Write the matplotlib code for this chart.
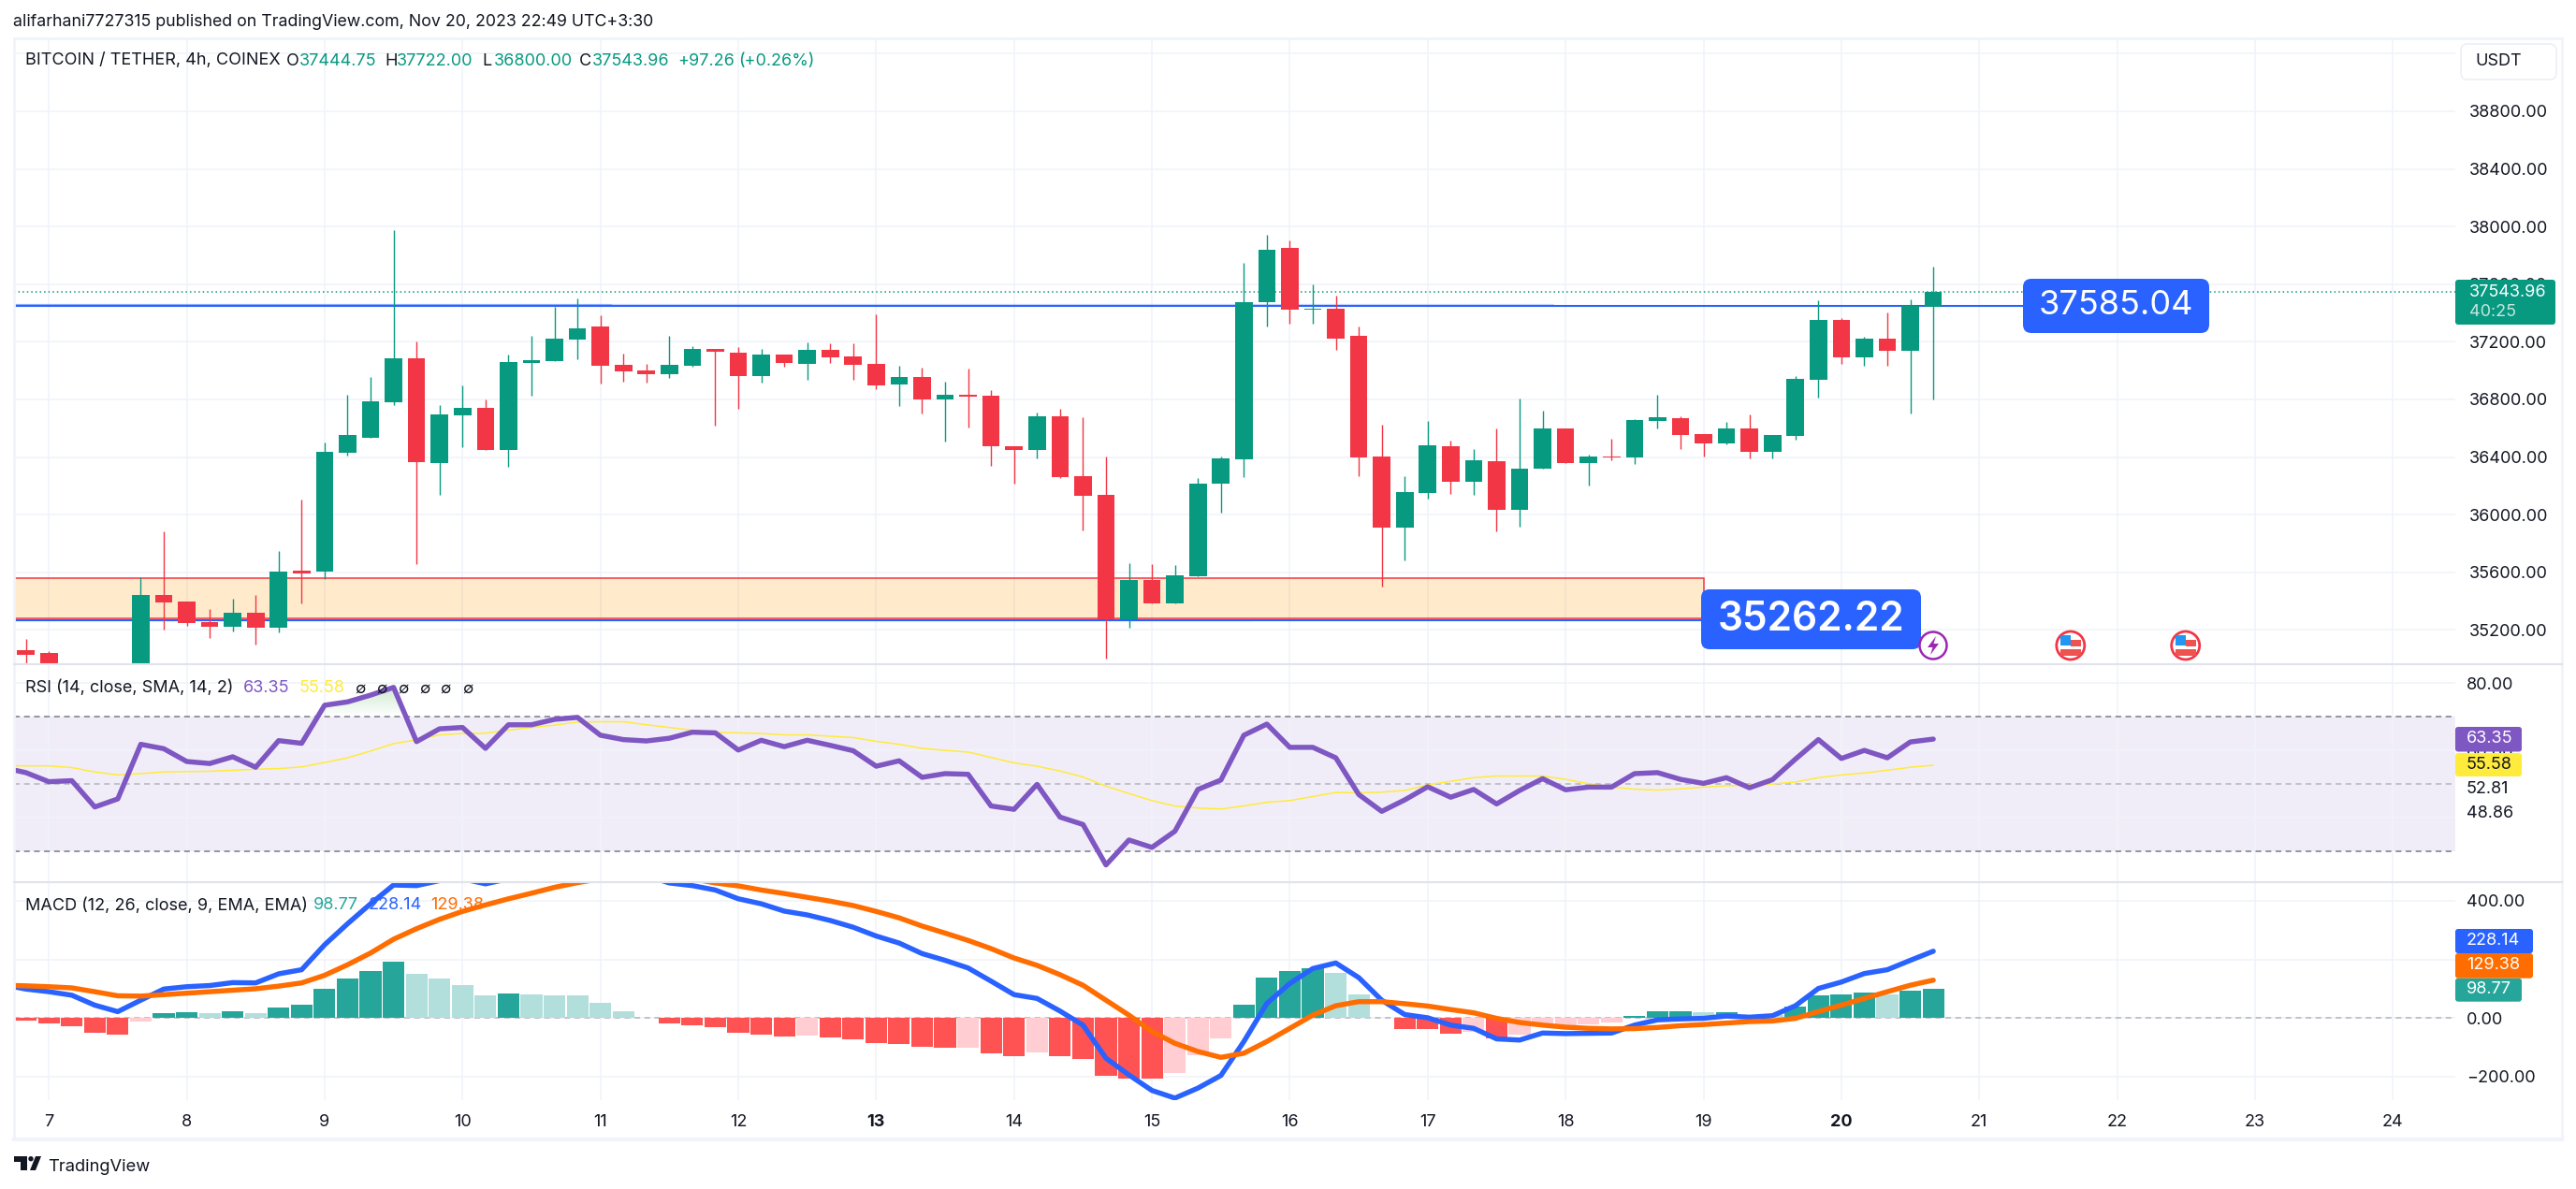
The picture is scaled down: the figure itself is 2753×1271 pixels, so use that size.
import matplotlib
matplotlib.use('Agg')
import matplotlib.pyplot as plt
import numpy as np
from matplotlib.patches import Rectangle, FancyBboxPatch, Circle, Polygon

plt.rcParams['font.family'] = ['Inter', 'DejaVu Sans']
plt.rcParams['axes.unicode_minus'] = False

# 4h candles, first entry is 2 bars before Nov 7 00:00
opens = [35160, 35061, 35042, 34880, 34800, 34780, 34800, 35444, 35399, 35256, 35224, 35321, 35217, 35613, 35606,
         36430, 36534, 36780, 37085, 36359, 36689, 36741, 36449, 37053, 37066, 37215, 37306, 37040, 37001, 36975,
         37033, 37150, 37124, 36962, 37111, 37046, 37143, 37098, 37046, 36903, 36955, 36800, 36832, 36826, 36475,
         36449, 36683, 36268, 36138, 35276, 35548, 35386, 35574, 36216, 36385, 37474, 37850, 37424, 37429, 37241,
         36404, 35911, 36151, 36475, 36229, 36372, 36034, 36320, 36599, 36359, 36404, 36398, 36650, 36670, 36560,
         36495, 36599, 36436, 36547, 36936, 37351, 37092, 37221, 37137, 37444.75]
highs = [35200, 35139, 35051, 34920, 34850, 34900, 35567, 35885, 35399, 35347, 35418, 35444, 35749, 36106, 36501,
         36832, 36955, 37974, 37202, 36761, 36897, 36800, 37111, 37241, 37442, 37500, 37383, 37117, 37046, 37241,
         37169, 37150, 37163, 37150, 37111, 37195, 37189, 37189, 37390, 37033, 37020, 36923, 37014, 36865, 36475,
         36709, 36735, 36676, 36404, 35665, 35658, 35652, 36255, 36404, 37747, 37941, 37902, 37597, 37520, 37306,
         36624, 36268, 36650, 36514, 36456, 36599, 36806, 36722, 36599, 36417, 36527, 36663, 36832, 36683, 36560,
         36644, 36696, 36553, 36962, 37487, 37364, 37234, 37403, 37494, 37722]
lows = [35050, 34900, 34800, 34760, 34700, 34720, 34700, 35204, 35230, 35146, 35191, 35100, 35185, 35386, 35554,
        36410, 36534, 36761, 35658, 36138, 36469, 36449, 36333, 36826, 37066, 37079, 36910, 36923, 36916, 36949,
        37027, 36618, 36735, 36916, 37027, 36936, 37053, 36936, 36871, 36754, 36702, 36508, 36605, 36339, 36216,
        36391, 36255, 35892, 35003, 35217, 35386, 35386, 35574, 36015, 36261, 37306, 37325, 37325, 37143, 36268,
        35502, 35684, 36112, 36145, 36138, 35885, 35918, 36320, 36359, 36203, 36378, 36352, 36599, 36456, 36404,
        36488, 36391, 36391, 36521, 36813, 37046, 37033, 37033, 36702, 36800]
closes = [35100, 35029, 34880, 34800, 34780, 34800, 35444, 35392, 35250, 35224, 35321, 35217, 35606, 35593, 36436,
          36553, 36787, 37085, 36365, 36696, 36741, 36449, 37059, 37072, 37221, 37293, 37033, 36994, 36975, 37040,
          37150, 37130, 36962, 37111, 37053, 37143, 37092, 37040, 36897, 36955, 36800, 36832, 36819, 36475, 36449,
          36683, 36261, 36132, 35276, 35548, 35386, 35580, 36216, 36391, 37474, 37837, 37422, 37429, 37221, 36398,
          35911, 36158, 36482, 36229, 36378, 36034, 36320, 36599, 36359, 36404, 36398, 36657, 36676, 36553, 36495,
          36599, 36436, 36553, 36942, 37351, 37092, 37221, 37137, 37448, 37543.96]

rsi = [54.9, 53.4, 50.7, 51.0, 43.2, 45.6, 61.8, 60.5, 56.7, 56.1, 58.1, 55.0, 62.9, 62.1, 73.4, 74.4, 76.4, 78.7,
       62.6, 66.4, 66.8, 60.6, 67.6, 67.6, 69.2, 69.8, 64.5, 63.2, 62.8, 63.6, 65.4, 65.2, 60.1, 63.0, 61.1, 63.0,
       61.5, 59.9, 55.3, 56.9, 52.0, 53.1, 52.9, 43.5, 42.5, 49.9, 40.2, 38.0, 26.0, 33.4, 31.2, 36.0, 48.4, 51.2,
       64.5, 67.8, 60.9, 60.9, 57.8, 46.9, 41.9, 45.3, 49.2, 46.1, 48.4, 44.1, 48.1, 51.6, 48.3, 49.1, 49.1, 53.1,
       53.4, 51.4, 50.2, 51.9, 48.9, 51.3, 57.4, 63.2, 57.6, 60.0, 57.8, 62.5, 63.35]
rsi_sma = [55.5, 55.4, 55.4, 54.9, 53.6, 52.7, 53.1, 53.6, 53.7, 53.8, 54.1, 54.4, 54.6, 55.1, 56.4, 57.8, 59.8, 62.0,
           63.1, 64.6, 65.0, 65.1, 66.0, 66.8, 67.5, 68.4, 68.5, 68.5, 67.6, 66.8, 66.0, 65.3, 65.2, 65.0, 64.6, 64.6,
           64.2, 63.8, 62.7, 61.8, 60.6, 60.0, 59.5, 57.9, 56.3, 55.3, 53.9, 52.1, 49.4, 47.2, 45.1, 43.5, 42.9, 42.6,
           43.5, 44.6, 45.1, 46.3, 47.5, 47.4, 47.6, 48.1, 49.8, 50.8, 51.9, 52.4, 52.4, 52.4, 51.4, 50.1, 49.1, 48.5,
           48.2, 48.6, 49.1, 49.5, 49.7, 50.0, 50.6, 51.9, 52.7, 53.3, 54.1, 55.0, 55.58]

macd_line = [114, 99, 90, 78, 44, 22, 61, 99, 107, 111, 121, 120, 151, 165, 250, 322, 390, 454, 452, 469, 475, 458,
             475, 486, 497, 503, 503, 497, 486, 461, 452, 437, 407, 390, 365, 352, 333, 310, 280, 256, 220, 197, 171,
             126, 80, 67, 24, -24, -137, -194, -247, -273, -239, -196, -80, 50, 118, 169, 188, 138, 61, 12, 1, -24,
             -35, -71, -75, -51, -53, -52, -51, -24, -6, -3, -1, 7, 3, 8, 42, 101, 123, 152, 165, 197, 228.14]
signal_line = [112, 110, 107, 103, 90, 76, 75, 80, 85, 90, 95, 100, 109, 120, 146, 182, 222, 269, 305, 337, 364, 386,
               407, 426, 446, 462, 475, 484, 486, 484, 475, 461, 451, 437, 425, 412, 399, 384, 364, 342, 314, 290,
               265, 237, 205, 180, 148, 112, 61, 10, -46, -86, -114, -134, -120, -80, -35, 10, 42, 56, 56, 49, 41, 29,
               18, -1, -15, -24, -31, -35, -37, -36, -32, -26, -22, -17, -12, -10, -1, 22, 44, 67, 90, 112, 129.38]
macd_hist = [-5, -9, -18, -27, -50, -57, -12, 17, 19, 18, 22, 17, 35, 45, 99, 134, 162, 191, 150, 134, 114, 77, 83, 80,
             79, 77, 51, 23, 2, -18, -25, -31, -50, -57, -62, -61, -66, -73, -85, -88, -97, -101, -100, -120, -129,
             -117, -129, -140, -196, -205, -208, -189, -126, -69, 45, 137, 162, 169, 154, 80, 2, -37, -38, -52, -46,
             -69, -58, -26, -24, -22, -14, 7, 22, 23, 19, 20, 12, 10, 39, 77, 80, 86, 82, 93, 98.77]

days = list(range(7, 25))
bold_days = [13, 20]
price_ticks = [35200, 35600, 36000, 36400, 36800, 37200, 37600, 38000, 38400, 38800, 39200]
price_tick_labels = ['35200.00', '35600.00', '36000.00', '36400.00', '36800.00', '37200.00', '37600.00',
                     '38000.00', '38400.00', '38800.00', '']
rsi_ticks = [80, 60, 40]
rsi_tick_labels = ['80.00', '60.00', '']
macd_ticks = [400, 200, 0, -200]
macd_tick_labels = ['400.00', '200.00', '0.00', '\u2212200.00']

resistance = 37448
support = 35270
zone_top, zone_bottom = 35559, 35280
zone_end = 72
last_close = closes[-1]

GREEN = '#089981'
RED = '#f23645'
BLUE = '#2962ff'
ORANGE = '#ff6d00'
PURPLE = '#7e57c2'
YELLOW = '#ffeb3b'
TEAL = '#26a69a'
INK = '#131722'
GRID = '#f0f3fa'
BORDER = '#e0e3eb'

W, H = 2753, 1271
fig = plt.figure(figsize=(W / 100, H / 100), dpi=100, facecolor='white')


def pane(x0, y0, x1, y1):
    # pixel box (top-left origin) to axes
    return fig.add_axes([x0 / W, 1 - y1 / H, (x1 - x0) / W, (y1 - y0) / H])


left, right = 14.7, 2624
x_per_bar = 24.56
x_zero = 52.2
xlim = ((left - x_zero) / x_per_bar, (right - x_zero) / x_per_bar)

ax_price = pane(left, 41, right, 710.3)
ax_rsi = pane(left, 710.3, right, 943.3)
ax_macd = pane(left, 943.3, right, 1176)

bars = np.arange(-2, len(closes) - 2)
day_pos = [(d - 7) * 6 for d in days]

for ax in (ax_price, ax_rsi, ax_macd):
    ax.set_xlim(xlim)
    ax.set_xticks(day_pos)
    ax.grid(True, color=GRID, linewidth=1.2)
    ax.set_axisbelow(True)
    for s in ax.spines.values():
        s.set_visible(False)
    ax.yaxis.tick_right()
    ax.tick_params(length=0, labelsize=13, labelcolor=INK)
    ax.patch.set_alpha(0)

# price pane
ax_price.set_ylim(34960, 39306)
ax_price.set_yticks(price_ticks)
ax_price.set_yticklabels(price_tick_labels)
ax_price.tick_params(axis='y', pad=11)
ax_price.tick_params(axis='x', labelbottom=False)

ax_price.add_patch(Rectangle((-10, zone_bottom), zone_end + 10, zone_top - zone_bottom, facecolor='#ff9800',
                             alpha=0.2, edgecolor='none', zorder=2))
ax_price.add_patch(Rectangle((-10, zone_bottom), zone_end + 10, zone_top - zone_bottom, facecolor='none',
                             edgecolor=RED, linewidth=1.1, zorder=2.2))
ax_price.hlines(resistance + 8, xlim[0], 24.5, color=BLUE, alpha=0.5, linewidth=1.6, zorder=2)
ax_price.hlines(resistance + 8, 24.5, 65.5, color=BLUE, alpha=0.25, linewidth=1.6, zorder=2)
ax_price.hlines(resistance, xlim[0], 85.9, color=BLUE, linewidth=1.5, zorder=2.1)
ax_price.hlines(support - 4, xlim[0], 52.3, color=BLUE, alpha=0.4, linewidth=1.6, zorder=2)
ax_price.hlines(support, xlim[0], zone_end, color=BLUE, linewidth=1.5, zorder=2.1)
ax_price.axhline(last_close, color=GREEN, linewidth=1.1, linestyle=(0, (1, 2)), zorder=2.3)

o, h, l, c = map(np.array, (opens, highs, lows, closes))
candle_colors = [GREEN if cc >= oo else RED for oo, cc in zip(o, c)]
ax_price.vlines(bars, l, h, colors=candle_colors, linewidth=1.0, zorder=3)
ax_price.bar(bars, np.abs(c - o), bottom=np.minimum(o, c), width=0.76, color=candle_colors,
             linewidth=0, zorder=3.1)

# RSI pane
ax_rsi.set_ylim(20.8, 85.5)
ax_rsi.set_yticks(rsi_ticks)
ax_rsi.set_yticklabels(rsi_tick_labels)
ax_rsi.tick_params(axis='y', pad=8.7)
ax_rsi.tick_params(axis='x', labelbottom=False)
ax_rsi.axhspan(30, 70, facecolor=PURPLE, alpha=0.1, edgecolor='none', zorder=0.5)
ax_rsi.axhline(70, color='#787b86', linewidth=1.1, linestyle=(0, (4, 3)), zorder=1)
ax_rsi.axhline(30, color='#787b86', linewidth=1.1, linestyle=(0, (4, 3)), zorder=1)
ax_rsi.axhline(50, color='#b2b5be', linewidth=1.1, linestyle=(0, (4, 3)), zorder=1)

# overbought gradient, fades out towards the 70 line
rsi_arr = np.array(rsi)
over = ax_rsi.fill_between(bars, 70, rsi_arr, where=rsi_arr > 70, interpolate=True, color='none', linewidth=0)
grad = np.zeros((64, 2, 4))
grad[..., :3] = matplotlib.colors.to_rgb('#4caf50')
grad[..., 3] = np.linspace(0.28, 0.0, 64)[:, None]
im = ax_rsi.imshow(grad, extent=(xlim[0], xlim[1], 70, 79), origin='upper', aspect='auto', zorder=1.5)
im.set_clip_path(over.get_paths()[0], transform=ax_rsi.transData)
ax_rsi.set_xlim(xlim)
ax_rsi.set_ylim(20.8, 85.5)

ax_rsi.plot(bars, rsi_sma, color=YELLOW, linewidth=1.1, zorder=3)
ax_rsi.plot(bars, rsi, color=PURPLE, linewidth=3.9, zorder=3.2, solid_joinstyle='round', solid_capstyle='round')

# MACD pane
ax_macd.set_ylim(-280, 462.8)
ax_macd.set_yticks(macd_ticks)
ax_macd.set_yticklabels(macd_tick_labels)
ax_macd.tick_params(axis='y', pad=8.7)
ax_macd.axhline(0, color='#b2b5be', linewidth=1.1, linestyle=(0, (4, 3)), zorder=1)
hist_colors = []
prev = None
for v in macd_hist:
    rising = prev is None or v > prev
    if v >= 0:
        hist_colors.append(TEAL if rising else '#b2dfdb')
    else:
        hist_colors.append('#ffcdd2' if rising else '#ff5252')
    prev = v
ax_macd.bar(bars, macd_hist, width=0.94, color=hist_colors, linewidth=0, zorder=2)
ax_macd.plot(bars, macd_line, color=BLUE, linewidth=3.9, zorder=3, solid_capstyle='round')
ax_macd.plot(bars, signal_line, color=ORANGE, linewidth=3.9, zorder=3.2, solid_capstyle='round')
ax_macd.set_xticklabels([str(d) for d in days])
ax_macd.tick_params(axis='x', pad=11)
for lab, d in zip(ax_macd.get_xticklabels(), days):
    if d in bold_days:
        lab.set_fontweight('bold')

# overlay in pixel coordinates for frame, legends and tags
ov = fig.add_axes([0, 0, 1, 1], zorder=10)
ov.set_xlim(0, W)
ov.set_ylim(H, 0)
ov.axis('off')
ov.patch.set_alpha(0)

ov.plot([left, left], [41, 1217.5], color=GRID, linewidth=2)
ov.plot([left, 2737.5], [41, 41], color=GRID, linewidth=2)
ov.plot([2737.5, 2737.5], [41, 1217.5], color=GRID, linewidth=2)
ov.plot([left, 2737.5], [1217.5, 1217.5], color=GRID, linewidth=3)
ov.plot([left, 2737.5], [710.3, 710.3], color=BORDER, linewidth=1.5)
ov.plot([left, 2737.5], [943.3, 943.3], color=BORDER, linewidth=1.5)


def label(x, y, s, color=INK, size=13, **kw):
    ov.text(x, y, s, color=color, fontsize=size, va='center', **kw)


def tag(x0, y0, x1, y1, color, radius=3):
    ov.add_patch(FancyBboxPatch((x0, y0), x1 - x0, y1 - y0, boxstyle=f'round,pad=0,rounding_size={radius}',
                                facecolor=color, edgecolor='none', zorder=5))


label(14, 24, 'alifarhani7727315 published on TradingView.com, Nov 20, 2023 22:49 UTC+3:30', size=12.8)

label(27, 65, 'BITCOIN / TETHER, 4h, COINEX')
for x, s in [(306, 'O'), (411, 'H'), (515, 'L'), (619, 'C')]:
    label(x, 65, s)
for x, s in [(320, '37444.75'), (424, '37722.00'), (528, '36800.00'), (633, '37543.96'),
             (724, '+97.26'), (789, '(+0.26%)')]:
    label(x, 65, s, color=GREEN)

label(27, 735, 'RSI (14, close, SMA, 14, 2)')
label(260, 735, '63.35', color=PURPLE)
label(320, 735, '55.58', color=YELLOW)
for x in [385, 408, 431, 454, 476, 500]:
    label(x, 736, '\u2205', ha='center', size=12)

label(27, 968, 'MACD (12, 26, close, 9, EMA, EMA)')
label(335, 968, '98.77', color=TEAL)
label(393.5, 968, '228.14', color=BLUE)
label(460, 968, '129.38', color=ORANGE)

# USDT button
ov.add_patch(FancyBboxPatch((2630, 47), 102, 38, boxstyle='round,pad=0,rounding_size=7', facecolor='white',
                            edgecolor='#eceff5', linewidth=1.2, zorder=3))
ov.text(2645, 65, 'USDT', color=INK, fontsize=13, va='center', zorder=4)

# drawing labels
tag(2162, 298, 2361, 356, BLUE, radius=9)
ov.text(2261.5, 327, '37585.04', color='white', fontsize=26, ha='center', va='center', zorder=6)
tag(1818, 630, 2053, 694, BLUE, radius=9)
ov.text(1935.5, 662, '35262.22', color='white', fontsize=30.5, fontweight='semibold', ha='center', va='center', zorder=6)

# axis tags
tag(2624, 299, 2731, 347, GREEN)
ov.text(2639, 312.7, '37543.96', color='white', fontsize=13, va='center', zorder=6)
ov.text(2639, 333.3, '40:25', color='#c4e6de', fontsize=13, va='center', zorder=6)

tag(2624, 777, 2695, 803.5, PURPLE)
ov.text(2636, 790, '63.35', color='white', fontsize=13, va='center', zorder=6)
tag(2624, 805, 2695, 830, YELLOW)
ov.text(2636, 817.5, '55.58', color=INK, fontsize=13, va='center', zorder=6)
label(2636, 843.7, '52.81')
label(2636, 870, '48.86')

tag(2624, 993, 2707, 1019, BLUE)
ov.text(2636, 1006, '228.14', color='white', fontsize=13, va='center', zorder=6)
tag(2624, 1045.7, 2695, 1070.7, TEAL)
ov.text(2636, 1058, '98.77', color='white', fontsize=13, va='center', zorder=6)
tag(2624, 1019, 2707, 1045.7, ORANGE)
ov.text(2636, 1032, '129.38', color='white', fontsize=13, va='center', zorder=6)

# event icons
ov.add_patch(Circle((2066, 690), 14.5, facecolor='white', edgecolor='#9c27b0', linewidth=1.8, zorder=7))
ov.add_patch(Polygon([(2069, 680), (2060, 692), (2065.5, 692), (2063, 700), (2072, 688), (2066.5, 688)],
                     closed=True, facecolor='#9c27b0', edgecolor='none', zorder=8))
for cx in (2212.8, 2335.7):
    ov.add_patch(Circle((cx, 690), 15, facecolor='white', edgecolor=RED, linewidth=2, zorder=7))
    ov.add_patch(Rectangle((cx - 11, 679), 11, 11, facecolor='#2196f3', edgecolor='none', zorder=8))
    ov.add_patch(Rectangle((cx, 684), 11, 7, facecolor='#ef5350', edgecolor='none', zorder=8))
    ov.add_patch(Rectangle((cx - 11, 694), 22, 7, facecolor='#ef5350', edgecolor='none', zorder=8))

# TradingView logo
ov.add_patch(Polygon([(15, 1236), (29, 1236), (29, 1251), (22, 1251), (22, 1241.5), (15, 1241.5)], closed=True,
                     facecolor=INK, edgecolor='none'))
ov.add_patch(Circle((33, 1238.7), 2.7, facecolor=INK, edgecolor='none'))
ov.add_patch(Polygon([(38, 1236), (44, 1236), (38, 1251), (32, 1251)], closed=True, facecolor=INK, edgecolor='none'))
label(51, 1247, 'TradingView', size=13.2)

fig.savefig('out.png', dpi=100, facecolor='white')
plt.close(fig)
